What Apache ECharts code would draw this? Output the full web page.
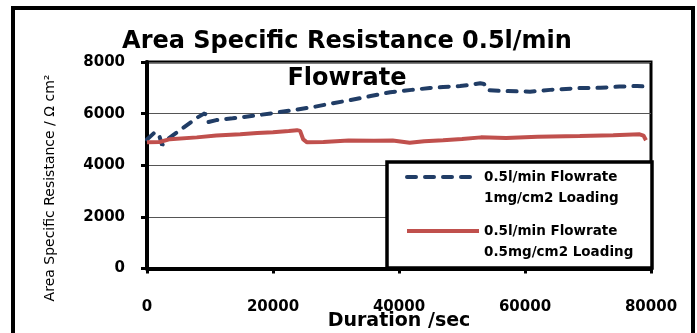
<!DOCTYPE html>
<html><head><meta charset="utf-8">
<script src="https://cdn.jsdelivr.net/npm/echarts@6/dist/echarts.min.js"></script>
<style>html,body{margin:0;padding:0;background:#fff}#c{width:697px;height:333px}</style>
</head><body><div id="c"></div>
<script>
const chartTitle = 'Area Specific Resistance 0.5l/min\nFlowrate';
const xAxisTitle = 'Duration /sec';
const yAxisTitle = 'Area Specific Resistance / \u03A9 cm\u00B2';
const xTicks = [0, 20000, 40000, 60000, 80000];
const yTicks = [0, 2000, 4000, 6000, 8000];
const seriesNames = ['0.5l/min Flowrate\n1mg/cm2 Loading', '0.5l/min Flowrate\n0.5mg/cm2 Loading'];

const blueTime  = [0, 1300, 2000, 2400, 3500, 5700, 8000, 9200, 9700, 11000, 13600, 17000, 20000, 23000, 26300, 29000, 32200, 35500, 38600, 42000, 44900, 47000, 49700, 51500, 52900, 53500, 54000, 56000, 60800, 64000, 68700, 72000, 75000, 77800, 79000];
const blueValue = [5000, 5290, 5100, 4780, 5050, 5440, 5850, 6020, 5670, 5750, 5820, 5920, 6020, 6130, 6250, 6380, 6520, 6680, 6830, 6920, 6990, 7030, 7070, 7120, 7180, 7150, 6910, 6880, 6850, 6920, 6990, 7000, 7050, 7070, 7050];

const redTime  = [0, 2000, 3650, 7900, 11000, 14800, 17500, 20000, 22500, 23800, 24300, 24800, 25400, 28000, 32000, 36000, 39000, 41700, 44000, 47000, 50000, 53000, 57000, 62000, 68700, 74000, 78200, 78800, 79200];
const redValue = [4890, 4900, 5010, 5080, 5150, 5200, 5250, 5280, 5330, 5360, 5330, 5000, 4890, 4900, 4960, 4950, 4960, 4870, 4930, 4970, 5020, 5080, 5060, 5100, 5130, 5160, 5200, 5150, 4970];

const FONT = 'DejaVu Sans';
const zip = (xs, ys) => xs.map((x, i) => [x, ys[i]]);
const plain = v => String(v);

const chart = echarts.init(document.getElementById('c'), null, {renderer: 'canvas'});
chart.setOption({
  animation: false,
  backgroundColor: '#fff',
  title: {
    text: chartTitle, left: 347, top: 23, textAlign: 'center', padding: 0,
    textStyle: {fontFamily: FONT, fontSize: 24, fontWeight: 'bold', lineHeight: 37, color: '#000'}
  },
  grid: {left: 147, top: 62, width: 504, height: 206.5, outerBoundsMode: 'none', containLabel: false,
         show: true, borderColor: '#000', borderWidth: 3, backgroundColor: 'transparent'},
  xAxis: {
    type: 'value', min: xTicks[0], max: xTicks[xTicks.length - 1], interval: xTicks[1] - xTicks[0],
    name: xAxisTitle, nameLocation: 'middle', nameGap: 43, nameMoveOverlap: false,
    nameTextStyle: {fontFamily: FONT, fontSize: 19, fontWeight: 'bold', color: '#000'},
    axisLine: {show: true, lineStyle: {color: '#000', width: 4}},
    axisTick: {show: true, length: 5, lineStyle: {color: '#000', width: 3}},
    axisLabel: {margin: 31, formatter: plain, fontFamily: FONT, fontSize: 15, fontWeight: 'bold', color: '#000'},
    splitLine: {show: false}
  },
  yAxis: {
    type: 'value', min: yTicks[0], max: yTicks[yTicks.length - 1], interval: yTicks[1] - yTicks[0],
    axisLine: {show: true, lineStyle: {color: '#000', width: 4}},
    axisTick: {show: true, length: 6, lineStyle: {color: '#000', width: 3}},
    axisLabel: {margin: 22, formatter: plain, fontFamily: FONT, fontSize: 15, fontWeight: 'bold', color: '#000'},
    splitLine: {show: true, lineStyle: {color: '#555', width: 1}}
  },
  legend: {
    orient: 'vertical', left: 405, top: 145.5, padding: 0, itemGap: -9,
    itemWidth: 72, itemHeight: 14, z: 10,
    formatter: name => '\n' + name,
    itemStyle: {opacity: 0},
    lineStyle: {width: 4},
    textStyle: {fontFamily: FONT, fontSize: 13.5, fontWeight: 'bold', color: '#000', lineHeight: 21},
    data: seriesNames
  },
  graphic: [
    {type: 'rect', z: 5, shape: {x: 387, y: 162, width: 265, height: 106}, style: {fill: '#fff', stroke: '#000', lineWidth: 3.5}},
    {type: 'rect', z: 0, shape: {x: 13, y: 8, width: 680, height: 400}, style: {fill: 'none', stroke: '#000', lineWidth: 4}},
    {type: 'text', z: 5, x: 50, y: 188, rotation: Math.PI / 2,
     style: {text: yAxisTitle, fontFamily: FONT, fontSize: 14, fill: '#000', textAlign: 'center', textVerticalAlign: 'middle'}}
  ],
  series: [
    {name: seriesNames[0], type: 'line', symbol: 'none', data: zip(blueTime, blueValue), z: 3,
     lineStyle: {color: '#213d66', width: 4, type: [9, 9], cap: 'round'}, itemStyle: {color: '#213d66'}},
    {name: seriesNames[1], type: 'line', symbol: 'none', data: zip(redTime, redValue), z: 3,
     lineStyle: {color: '#c0504d', width: 4}, itemStyle: {color: '#c0504d'}}
  ]
});
</script>
</body></html>
